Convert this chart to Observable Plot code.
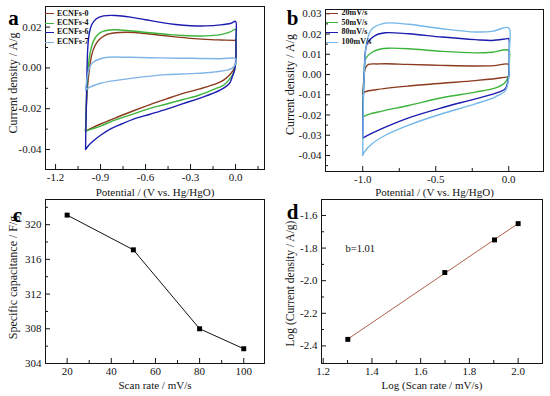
<!DOCTYPE html>
<html><head><meta charset="utf-8">
<script src="https://cdn.jsdelivr.net/npm/d3@7"></script>
<script src="https://cdn.jsdelivr.net/npm/@observablehq/plot@0.6"></script>
<style>
body{margin:0;background:#fff;}
#root{position:relative;width:550px;height:396px;overflow:hidden;background:#fff;}
.panel{position:absolute;}
.panel svg text{font-family:"Liberation Serif","Times New Roman",serif;}
.leg{position:absolute;font:bold 8px "Liberation Serif","Times New Roman",serif;color:#111;white-space:nowrap;line-height:8px;}
.sw{position:absolute;height:0;border-top:1.5px solid;}
</style></head><body><div id="root"></div>
<script>
const FONT = '"Liberation Serif","Times New Roman",serif';

// ---------- Panel a: CV of samples at one scan rate ----------
const aSeries = ["ECNFs-0", "ECNFs-4", "ECNFs-6", "ECNFs-7"];
const aColors = ["#8b3a1e", "#3cb43c", "#1c1cb0", "#80b4e6"];
const ecnfs0 = [[-1.0,-0.031],[-0.995,-0.02],[-0.985,-0.008],[-0.975,-0.001],[-0.96,0.006],[-0.94,0.0105],[-0.91,0.0138],[-0.87,0.016],[-0.8,0.0172],[-0.72,0.0175],[-0.6,0.0169],[-0.5,0.016],[-0.4,0.0152],[-0.3,0.0145],[-0.2,0.014],[-0.1,0.0137],[-0.01,0.0135],[0.0,0.0135],[0.002,0.008],[0.0,0.002],[-0.01,-0.0005],[-0.04,-0.0035],[-0.08,-0.006],[-0.12,-0.0075],[-0.24,-0.0103],[-0.35,-0.0125],[-0.46,-0.0152],[-0.57,-0.018],[-0.68,-0.021],[-0.8,-0.0245],[-0.9,-0.0275],[-0.96,-0.0295],[-1.0,-0.031]];
const ecnfs4 = [[-1.0,-0.031],[-0.995,-0.018],[-0.988,-0.006],[-0.98,0.002],[-0.965,0.009],[-0.945,0.0135],[-0.92,0.0163],[-0.88,0.018],[-0.81,0.0187],[-0.7,0.0182],[-0.57,0.0172],[-0.45,0.0164],[-0.35,0.0159],[-0.2,0.0157],[-0.1,0.0163],[-0.04,0.0175],[0.0,0.0188],[0.003,0.012],[0.002,0.003],[-0.01,-0.002],[-0.04,-0.0055],[-0.08,-0.0085],[-0.12,-0.0098],[-0.24,-0.0133],[-0.35,-0.0155],[-0.46,-0.0177],[-0.57,-0.0198],[-0.68,-0.0225],[-0.8,-0.0255],[-0.9,-0.0285],[-0.96,-0.030],[-1.0,-0.031]];
const ecnfs6 = [[-1.0,-0.040],[-0.998,-0.03],[-0.994,-0.015],[-0.99,0.0],[-0.985,0.01],[-0.975,0.017],[-0.96,0.021],[-0.93,0.024],[-0.88,0.0255],[-0.8,0.0257],[-0.7,0.0249],[-0.6,0.0236],[-0.5,0.0223],[-0.4,0.0213],[-0.3,0.0207],[-0.2,0.0206],[-0.1,0.0211],[-0.03,0.0219],[0.0,0.0228],[0.003,0.015],[0.002,0.005],[-0.005,-0.0005],[-0.02,-0.004],[-0.04,-0.0075],[-0.1,-0.0108],[-0.236,-0.0148],[-0.35,-0.0175],[-0.458,-0.0202],[-0.57,-0.0227],[-0.68,-0.0251],[-0.76,-0.0275],[-0.836,-0.030],[-0.9,-0.033],[-0.947,-0.0357],[-0.98,-0.038],[-1.0,-0.040]];
const ecnfs7 = [[-1.0,-0.011],[-0.99,-0.005],[-0.975,0.0],[-0.95,0.0028],[-0.9,0.0045],[-0.85,0.0052],[-0.7,0.0052],[-0.5,0.0049],[-0.3,0.0047],[-0.1,0.0045],[0.0,0.0045],[0.0,0.002],[-0.02,0.0],[-0.05,-0.001],[-0.15,-0.0021],[-0.3,-0.0028],[-0.46,-0.0033],[-0.68,-0.005],[-0.9,-0.0075],[-0.98,-0.0098],[-1.0,-0.011]];
const aCurves = [ecnfs0, ecnfs4, ecnfs6, ecnfs7];
const aXTicks = [-1.2, -0.9, -0.6, -0.3, 0.0];
const aXMinor = [-1.05, -0.75, -0.45, -0.15, 0.15];
const aYTicks = [-0.04, -0.02, 0.00, 0.02];
const aYMinor = [-0.03, -0.01, 0.01];

// ---------- Panel b: CV at several scan rates ----------
const bSeries = ["20mV/s", "50mV/s", "80mV/s", "100mV/s"];
const bColors = ["#8b3a1e", "#3cb43c", "#1c1cb0", "#74b8ea"];
const r20 = [[-1.0,-0.0095],[-0.995,-0.005],[-0.99,0.0],[-0.98,0.0035],[-0.96,0.005],[-0.9,0.0052],[-0.84,0.0053],[-0.7,0.005],[-0.46,0.0045],[-0.23,0.0042],[-0.1,0.0044],[0.0,0.005],[0.002,0.002],[0.0,-0.0008],[-0.05,-0.0016],[-0.228,-0.003],[-0.457,-0.0043],[-0.685,-0.0057],[-0.91,-0.0075],[-0.98,-0.0085],[-1.0,-0.0095]];
const r50 = [[-1.0,-0.021],[-0.997,-0.01],[-0.99,0.0],[-0.98,0.0078],[-0.936,0.011],[-0.87,0.0127],[-0.82,0.013],[-0.685,0.0127],[-0.457,0.0114],[-0.228,0.0107],[-0.114,0.011],[0.0,0.0119],[0.003,0.006],[0.0,0.0],[-0.023,-0.0038],[-0.09,-0.0066],[-0.228,-0.0087],[-0.457,-0.0115],[-0.685,-0.0153],[-0.868,-0.0181],[-0.96,-0.0197],[-1.0,-0.021]];
const r80 = [[-1.0,-0.0314],[-0.997,-0.015],[-0.99,0.0],[-0.97,0.0152],[-0.913,0.0193],[-0.845,0.0206],[-0.685,0.0201],[-0.457,0.0185],[-0.228,0.0172],[-0.114,0.0168],[-0.01,0.0177],[0.0,0.0177],[0.003,0.01],[0.0,-0.0005],[-0.023,-0.007],[-0.068,-0.0087],[-0.228,-0.012],[-0.457,-0.0164],[-0.685,-0.0214],[-0.845,-0.026],[-0.936,-0.029],[-1.0,-0.0314]];
const r100 = [[-1.0,-0.040],[-0.997,-0.02],[-0.99,0.0],[-0.97,0.0168],[-0.936,0.0226],[-0.868,0.025],[-0.82,0.0255],[-0.685,0.0248],[-0.457,0.0226],[-0.228,0.021],[-0.114,0.0213],[0.0,0.023],[0.003,0.012],[0.0,-0.0013],[-0.023,-0.008],[-0.091,-0.011],[-0.228,-0.0145],[-0.457,-0.0194],[-0.685,-0.025],[-0.845,-0.030],[-0.936,-0.0342],[-0.99,-0.0384],[-1.0,-0.040]];
const bCurves = [r20, r50, r80, r100];
const bXTicks = [-1.0, -0.5, 0.0];
const bXMinor = [-0.75, -0.25];
const bYTicks = [-0.04, -0.03, -0.02, -0.01, 0.00, 0.01, 0.02, 0.03];
const bYMinor = [-0.045, -0.035, -0.025, -0.015, -0.005, 0.005, 0.015, 0.025];

// ---------- Panel c: specific capacitance ----------
const cRate = [20, 50, 80, 100];
const cCap = [321.1, 317.1, 308.0, 305.7];
const cXTicks = [20, 40, 60, 80, 100];
const cXMinor = [30, 50, 70, 90];
const cYTicks = [304, 308, 312, 316, 320];
const cYMinor = [306, 310, 314, 318, 322];

// ---------- Panel d: log-log ----------
const dLogRate = [1.301, 1.699, 1.903, 2.0];
const dLogJ = [-2.36, -1.95, -1.75, -1.65];
const dXTicks = [1.2, 1.4, 1.6, 1.8, 2.0];
const dXMinor = [1.3, 1.5, 1.7, 1.9];
const dYTicks = [-2.4, -2.2, -2.0, -1.8, -1.6];
const dYMinor = [-2.3, -2.1, -1.9, -1.7];
const dNote = "b=1.01";

const root = document.getElementById("root");

function panel(cfg) {
  const fw = cfg.width - cfg.ml - cfg.mr, fh = cfg.height - cfg.mt - cfg.mb;
  const ink = "#141414";
  const p = Plot.plot({
    width: cfg.width, height: cfg.height,
    marginLeft: cfg.ml, marginRight: cfg.mr, marginTop: cfg.mt, marginBottom: cfg.mb,
    x: {domain: cfg.xd, axis: null},
    y: {domain: cfg.yd, axis: null},
    style: {fontFamily: FONT, fontSize: "10px", color: ink, background: "transparent", overflow: "visible"},
    marks: [
      ...cfg.marks,
      Plot.frame({stroke: ink, strokeWidth: 1}),
      Plot.tickX(cfg.xt, {x: d => d, insetTop: fh - 5, stroke: ink}),
      Plot.tickX(cfg.xm, {x: d => d, insetTop: fh - 3, stroke: ink}),
      Plot.tickY(cfg.yt, {y: d => d, insetRight: fw - 5, stroke: ink}),
      Plot.tickY(cfg.ym, {y: d => d, insetRight: fw - 3, stroke: ink}),
      Plot.axisX({ticks: cfg.xt, tickSize: 0, tickPadding: 4, tickFormat: cfg.xf, label: null, fontSize: 11, fontFamily: FONT, fill: ink}),
      Plot.axisY({ticks: cfg.yt, tickSize: 0, tickPadding: 4, tickFormat: cfg.yf, label: null, fontSize: 11, fontFamily: FONT, fill: ink}),
      Plot.text([cfg.xTitle], {frameAnchor: "bottom", dy: cfg.xdy, text: d => d, textAnchor: "middle", lineAnchor: "middle", fontSize: 11, fontFamily: FONT, fill: ink}),
      Plot.text([cfg.yTitle], {frameAnchor: "left", dx: cfg.ydx, dy: cfg.ydy, rotate: -90, text: d => d, textAnchor: "middle", lineAnchor: "middle", fontSize: cfg.yfs, fontFamily: FONT, fill: ink}),
      Plot.text([cfg.letter], {frameAnchor: "top-left", dx: cfg.ldx, dy: cfg.ldy, text: d => d, textAnchor: "middle", lineAnchor: "middle", fontSize: 21, fontWeight: "bold", fontFamily: FONT, fill: "#000"})
    ]
  });
  const div = document.createElement("div");
  div.className = "panel";
  div.style.left = cfg.left + "px";
  div.style.top = cfg.top + "px";
  div.appendChild(p);
  root.appendChild(div);
}

function legend(names, colors, x0, lineW, textX, ys) {
  names.forEach((n, i) => {
    const s = document.createElement("div");
    s.className = "sw";
    s.style.left = x0 + "px"; s.style.width = lineW + "px";
    s.style.top = (ys[i] - 0.75) + "px"; s.style.borderColor = colors[i];
    root.appendChild(s);
    const t = document.createElement("div");
    t.className = "leg";
    t.textContent = n;
    t.style.left = textX + "px"; t.style.top = (ys[i] - 4.5) + "px";
    root.appendChild(t);
  });
}

const f1 = d => d.toFixed(1), f2 = d => d.toFixed(2), f0 = d => d.toFixed(0);

const cvMarks = (curves, colors) => curves.map((c, i) =>
  Plot.line(c, {x: d => d[0], y: d => d[1], stroke: colors[i], strokeWidth: 1.4, curve: "catmull-rom"}));

panel({
  left: 0, top: 0, width: 275, height: 198, ml: 45, mr: 11, mt: 6, mb: 29,
  xd: [-1.267, 0.193], yd: [-0.0498, 0.0301],
  xt: aXTicks, xm: aXMinor, yt: aYTicks, ym: aYMinor, xf: f1, yf: f2,
  xTitle: "Potential / (V vs. Hg/HgO)", xdy: 23,
  yTitle: "Current density / A/g", ydx: -32, ydy: -5, yfs: 12,
  letter: "a", ldx: -32, ldy: 12,
  marks: cvMarks(aCurves, aColors)
});

panel({
  left: 275, top: 0, width: 275, height: 198, ml: 50, mr: 7, mt: 9, mb: 27,
  xd: [-1.255, 0.238], yd: [-0.0479, 0.0321],
  xt: bXTicks, xm: bXMinor, yt: bYTicks, ym: bYMinor, xf: f1, yf: f2,
  xTitle: "Potential / (V vs. Hg/HgO)", xdy: 21,
  yTitle: "Current density / A/g", ydx: -35, ydy: -6, yfs: 12,
  letter: "b", ldx: -33, ldy: 9,
  marks: cvMarks(bCurves, bColors)
});

panel({
  left: 0, top: 198, width: 275, height: 198, ml: 45, mr: 11, mt: 1, mb: 33,
  xd: [10.2, 109.4], yd: [304, 322.9],
  xt: cXTicks, xm: cXMinor, yt: cYTicks, ym: cYMinor, xf: f0, yf: f0,
  xTitle: "Scan rate / mV/s", xdy: 22,
  yTitle: "Specific capacitance / F/g", ydx: -32, ydy: -4, yfs: 12,
  letter: "c", ldx: -28, ldy: 16,
  marks: [
    Plot.line(cRate.map((r, i) => [r, cCap[i]]), {x: d => d[0], y: d => d[1], stroke: "#111", strokeWidth: 1}),
    Plot.dot(cRate.map((r, i) => [r, cCap[i]]), {x: d => d[0], y: d => d[1], symbol: "square", r: 2.8, fill: "#000", stroke: "none"})
  ]
});

panel({
  left: 275, top: 198, width: 275, height: 198, ml: 46, mr: 8, mt: 1, mb: 33,
  xd: [1.193, 2.1], yd: [-2.508, -1.502],
  xt: dXTicks, xm: dXMinor, yt: dYTicks, ym: dYMinor, xf: f1, yf: f1,
  xTitle: "Log (Scan rate / mV/s)", xdy: 22,
  yTitle: "Log (Current density / A/g)", ydx: -31, ydy: 2, yfs: 11.5,
  letter: "d", ldx: -29, ldy: 13,
  marks: [
    Plot.linearRegressionY(dLogRate.map((r, i) => [r, dLogJ[i]]), {x: d => d[0], y: d => d[1], stroke: "#b0604a", strokeWidth: 1, ci: 0}),
    Plot.dot(dLogRate.map((r, i) => [r, dLogJ[i]]), {x: d => d[0], y: d => d[1], symbol: "square", r: 2.8, fill: "#000", stroke: "none"}),
    Plot.text([dNote], {frameAnchor: "top-left", dx: 24, dy: 45, text: d => d, textAnchor: "start", fontSize: 10.5, fontFamily: FONT, fill: "#111"})
  ]
});

legend(aSeries, aColors, 45, 9, 57, [14, 23.3, 32.7, 42.7]);
legend(bSeries, bColors, 326, 12, 341.5, [13.3, 23, 32.7, 42.7]);
</script>
</body></html>
